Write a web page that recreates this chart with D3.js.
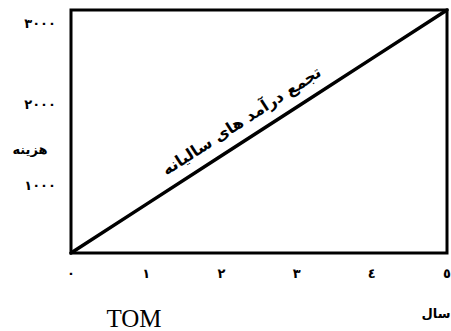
<!DOCTYPE html>
<html lang="fa">
<head>
<meta charset="utf-8">
<script src="https://cdn.jsdelivr.net/npm/d3@7"></script>
<style>
  html, body { margin: 0; padding: 0; background: #fff; }
  svg { display: block; }
  text { fill: #000; }
</style>
</head>
<body>
<svg id="chart" width="451" height="331"></svg>
<script>
// Years on the horizontal axis and cumulative annual revenue on the vertical one
const years = [0, 1, 2, 3, 4, 5];
const cumulativeRevenue = [0, 600, 1200, 1800, 2400, 3000];
const yearLabels = ["٠", "١", "٢", "٣", "٤", "٥"];
const costTicks = [3000, 2000, 1000];
const costTickLabels = ["٣٠٠٠", "٢٠٠٠", "١٠٠٠"];
const lineLabel = "تجمع درآمد های سالیانه";
const yAxisTitle = "هزینه";
const xAxisTitle = "سال";
const footer = "TOM";

const svg = d3.select("#chart");
const plot = { left: 71, right: 447, top: 10, bottom: 253 };

const x = d3.scaleLinear().domain([0, 5]).range([plot.left, plot.right]);
const y = d3.scaleLinear().domain([0, 3000]).range([plot.bottom, plot.top]);

// Frame around the plotting area
svg.append("rect")
  .attr("x", plot.left).attr("y", plot.top)
  .attr("width", plot.right - plot.left).attr("height", plot.bottom - plot.top)
  .attr("fill", "none").attr("stroke", "#000").attr("stroke-width", 3);

// Cumulative revenue line
const pts = years.map((yr, i) => [yr, cumulativeRevenue[i]]);
svg.append("path")
  .datum(pts)
  .attr("d", d3.line().x(d => x(d[0])).y(d => y(d[1])))
  .attr("fill", "none").attr("stroke", "#000").attr("stroke-width", 3.5)
  .attr("stroke-linecap", "round");

// Label along the line, centred a little before the middle year
const angle = Math.atan2(y(3000) - y(0), x(5) - x(0)) * 180 / Math.PI;
const at = 2.4;
const anchor = [x(at), y(d3.scaleLinear().domain(years).range(cumulativeRevenue)(at))];
svg.append("text")
  .attr("transform", `translate(${anchor[0]},${anchor[1]}) rotate(${angle}) translate(0,-13)`)
  .attr("text-anchor", "middle")
  .attr("direction", "rtl")
  .style("font-family", "'DejaVu Sans', sans-serif")
  .style("font-size", "16px")
  .style("font-weight", "bold")
  .text(lineLabel);

// Year tick labels
svg.append("g").selectAll("text")
  .data(years)
  .join("text")
  .attr("x", d => x(d))
  .attr("y", 278)
  .attr("text-anchor", "middle")
  .style("font-family", "'DejaVu Sans', sans-serif")
  .style("font-size", "13px")
  .style("font-weight", "bold")
  .text((d, i) => yearLabels[i]);

// Cost tick labels
svg.append("g").selectAll("text")
  .data(costTicks)
  .join("text")
  .attr("x", 56)
  .attr("y", d => y(d) + 18)
  .attr("text-anchor", "end")
  .style("font-family", "'DejaVu Sans', sans-serif")
  .style("font-size", "13px")
  .style("font-weight", "bold")
  .style("letter-spacing", "4px")
  .text((d, i) => costTickLabels[i]);

// Axis titles
svg.append("text")
  .attr("x", 30).attr("y", 154)
  .attr("text-anchor", "middle")
  .attr("direction", "rtl")
  .style("font-family", "'DejaVu Sans', sans-serif")
  .style("font-size", "13px")
  .style("font-weight", "bold")
  .text(yAxisTitle);

svg.append("text")
  .attr("x", 436).attr("y", 318)
  .attr("text-anchor", "middle")
  .attr("direction", "rtl")
  .style("font-family", "'DejaVu Sans', sans-serif")
  .style("font-size", "13px")
  .style("font-weight", "bold")
  .text(xAxisTitle);

svg.append("text")
  .attr("x", 134).attr("y", 327)
  .attr("text-anchor", "middle")
  .style("font-family", "'Liberation Serif', serif")
  .style("font-size", "25px")
  .text(footer);
</script>
</body>
</html>
